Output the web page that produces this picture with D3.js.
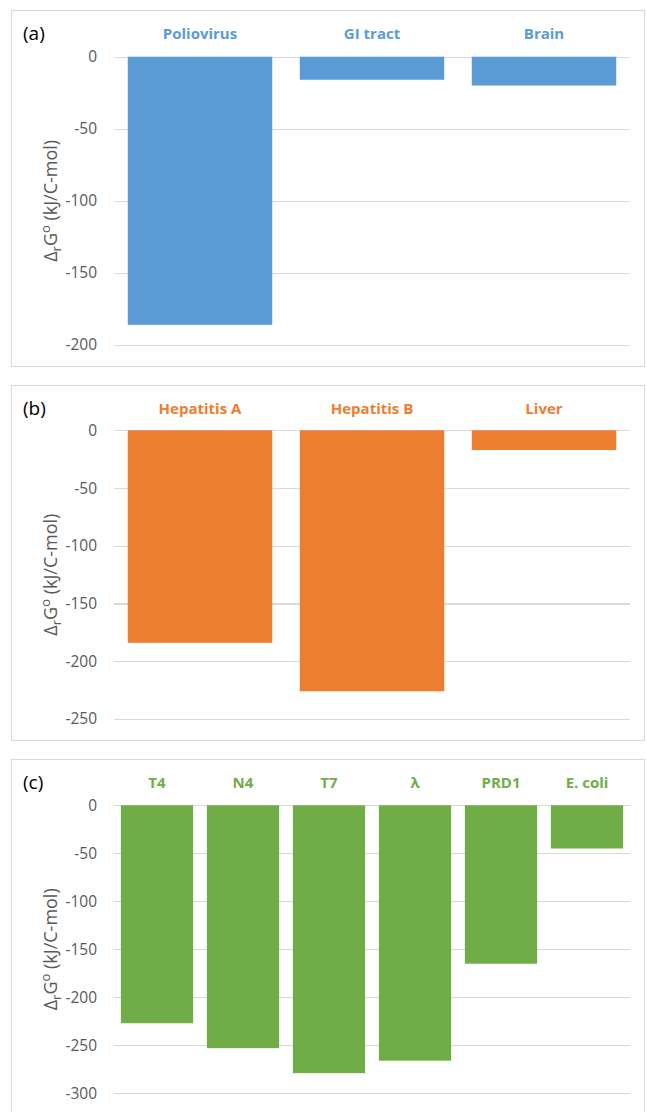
<!DOCTYPE html>
<html lang="en">
<head>
    <meta charset="utf-8">
    <script src="https://cdn.jsdelivr.net/npm/d3@7"></script>
    <style>
        body { margin: 0; background: #fff; }
        .frame { fill: none; stroke: #d9d9d9; stroke-width: 1; }
        .grid line { stroke: #d9d9d9; stroke-width: 1.2; shape-rendering: crispEdges; }
        .grid path { display: none; }
        .grid text { font-family: 'Open Sans', sans-serif; font-size: 15.5px; fill: #595959; }
        .cat { font-family: 'Open Sans', sans-serif; font-size: 15px; font-weight: bold; }
        .panel-label { font-family: 'Open Sans', sans-serif; font-size: 19px; fill: #000; }
        .ytitle { font-family: 'Open Sans', sans-serif; font-size: 18px; fill: #595959; }
    </style>
</head>
<body>
<div id="chart"></div>
<script>

    // data for the three panels
    var panelNames = ["(a)", "(b)", "(c)"];

    var catsA = ["Poliovirus", "GI tract", "Brain"];
    var valsA = [-186, -16, -20];
    var ticksA = [0, -50, -100, -150, -200];

    var catsB = ["Hepatitis A", "Hepatitis B", "Liver"];
    var valsB = [-184, -226, -17];
    var ticksB = [0, -50, -100, -150, -200, -250];

    var catsC = ["T4", "N4", "T7", "λ", "PRD1", "E. coli"];
    var valsC = [-227, -253, -279, -266, -165, -45];
    var ticksC = [0, -50, -100, -150, -200, -250, -300];

    var colors = ["#5b9bd5", "#ed7d31", "#70ad47"];

    var W = 647, H = 1112;
    var plotLeft = 114, plotRight = 630;

    // vertical layout of each panel (frame top/bottom, zero line, bottom gridline)
    var layout = [
        {top: 10.5, bottom: 366.5, zero: 56.7, low: 345, labelY: 33},
        {top: 385.5, bottom: 740.5, zero: 430.3, low: 719, labelY: 408},
        {top: 759.5, bottom: 1140, zero: 805.3, low: 1093.3, labelY: 782}
    ];

    var svg = d3.select("#chart").append("svg")
        .attr("width", W)
        .attr("height", H);

    drawPanel(0, catsA, valsA, ticksA);
    drawPanel(1, catsB, valsB, ticksB);
    drawPanel(2, catsC, valsC, ticksC);

    function drawPanel(i, cats, vals, ticks) {
        var L = layout[i];
        var g = svg.append("g");

        g.append("rect")
            .attr("class", "frame")
            .attr("x", 11.5)
            .attr("y", L.top)
            .attr("width", 633)
            .attr("height", L.bottom - L.top);

        var x = d3.scaleBand()
            .domain(cats)
            .range([plotLeft, plotRight])
            .paddingInner(0.16)
            .paddingOuter(0.08);

        var y = d3.scaleLinear()
            .domain([d3.min(ticks), 0])
            .range([L.low, L.zero]);

        // gridlines + tick labels (plain hyphen like the original)
        g.append("g")
            .attr("class", "grid")
            .attr("transform", "translate(" + plotLeft + ",0)")
            .call(d3.axisLeft(y)
                .tickValues(ticks)
                .tickSize(-(plotRight - plotLeft))
                .tickPadding(17)
                .tickFormat(function (d) { return String(d); }));

        g.selectAll(".bar")
            .data(vals)
            .enter().append("rect")
            .attr("class", "bar")
            .attr("x", function (d, j) { return x(cats[j]); })
            .attr("width", x.bandwidth())
            .attr("y", y(0))
            .attr("height", function (d) { return y(d) - y(0); })
            .attr("fill", colors[i]);

        // category names above the bars
        g.selectAll(".cat")
            .data(cats)
            .enter().append("text")
            .attr("class", "cat")
            .attr("x", function (d) { return x(d) + x.bandwidth() / 2; })
            .attr("y", L.labelY)
            .attr("text-anchor", "middle")
            .attr("dominant-baseline", "central")
            .attr("fill", colors[i])
            .text(function (d) { return d; });

        g.append("text")
            .attr("class", "panel-label")
            .attr("x", 23)
            .attr("y", L.labelY)
            .attr("dominant-baseline", "central")
            .text(panelNames[i]);

        // y axis title
        var t = g.append("text")
            .attr("class", "ytitle")
            .attr("text-anchor", "middle")
            .attr("transform", "translate(57," + ((L.zero + L.low) / 2) + ") rotate(-90)");
        t.append("tspan").text("Δ");
        t.append("tspan").attr("font-size", "13px").attr("dy", 4).text("r");
        t.append("tspan").attr("dy", -4).text("G");
        t.append("tspan").attr("font-size", "13px").attr("dy", -7).text("o");
        t.append("tspan").attr("dy", 7).text(" (kJ/C-mol)");
    }

</script>
</body>
</html>
